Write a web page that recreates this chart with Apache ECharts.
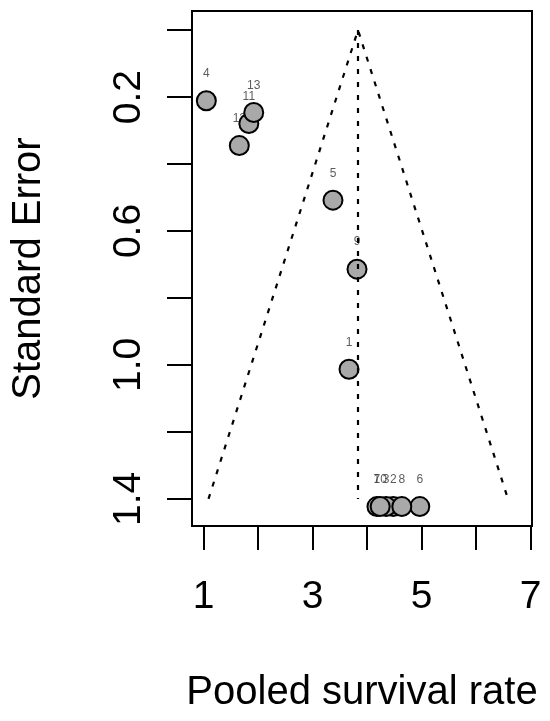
<!DOCTYPE html>
<html>
<head>
<meta charset="utf-8">
<script src="https://cdn.jsdelivr.net/npm/echarts@6/dist/echarts.min.js"></script>
<style>
  html, body { margin: 0; padding: 0; background: #fff; }
  #chart { width: 550px; height: 721px; }
</style>
</head>
<body>
<div id="chart"></div>
<script>
// studies in plotting order 1..13
const studyIds = ['1', '2', '3', '4', '5', '6', '7', '8', '9', '10', '11', '12', '13']
const survival = [3.668, 4.48, 4.35, 1.05, 3.374, 4.967, 4.181, 4.637, 3.815, 4.24, 1.83, 1.655, 1.92]
const stdError = [1.013, 1.423, 1.423, 0.211, 0.508, 1.423, 1.423, 1.423, 0.714, 1.423, 0.279, 0.345, 0.246]

// funnel outline and centre line
const funnelX = [1.09, 3.833, 6.585]
const funnelY = [1.4, 0, 1.4]
const centreX = [3.833, 3.833]
const centreY = [0, 1.4]

// axis ticks and labels
const xTicks = [1, 2, 3, 4, 5, 6, 7]
const xLabels = [1, 3, 5, 7]
const yTicks = [0, 0.2, 0.4, 0.6, 0.8, 1.0, 1.2, 1.4]
const yLabels = [0.2, 0.6, 1.0, 1.4]

const font = "'Liberation Sans', Arial, sans-serif"
const points = survival.map((x, i) => [x, stdError[i], studyIds[i]])

const chart = echarts.init(document.getElementById('chart'))
chart.setOption({
  animation: false,
  textStyle: { fontFamily: font },
  grid: {
    show: true,
    left: 192,
    right: 18,
    top: 11,
    bottom: 195,
    borderColor: '#000',
    borderWidth: 2,
    containLabel: false
  },
  xAxis: {
    type: 'value',
    min: 0.787,
    max: 7.026,
    name: 'Pooled survival rate',
    nameLocation: 'middle',
    nameGap: 147,
    nameTextStyle: { fontSize: 40, lineHeight: 40, color: '#000', fontFamily: font },
    axisLine: { show: true, onZero: false, lineStyle: { color: '#000', width: 2 } },
    axisTick: {
      show: true,
      customValues: xTicks,
      length: 24,
      lineStyle: { color: '#000', width: 2 }
    },
    axisLabel: {
      customValues: xLabels,
      fontSize: 39,
      lineHeight: 39,
      margin: 52,
      color: '#000',
      fontFamily: font
    },
    splitLine: { show: false }
  },
  yAxis: {
    type: 'value',
    inverse: true,
    min: -0.057,
    max: 1.481,
    name: 'Standard Error',
    nameLocation: 'middle',
    nameGap: 143,
    nameRotate: 90,
    nameTextStyle: { fontSize: 40, lineHeight: 40, color: '#000', fontFamily: font },
    axisLine: { show: true, onZero: false, lineStyle: { color: '#000', width: 2 } },
    axisTick: {
      show: true,
      customValues: yTicks,
      length: 25,
      lineStyle: { color: '#000', width: 2 }
    },
    axisLabel: {
      customValues: yLabels,
      rotate: 90,
      fontSize: 39,
      lineHeight: 39,
      margin: 43,
      color: '#000',
      fontFamily: font,
      formatter: v => v.toFixed(1)
    },
    splitLine: { show: false }
  },
  series: [
    {
      // study labels, kept underneath the circles
      type: 'scatter',
      z: 1,
      silent: true,
      symbolSize: 1,
      itemStyle: { color: 'rgba(0,0,0,0)' },
      data: points,
      label: {
        show: true,
        position: 'inside',
        offset: [0, -27],
        formatter: p => p.value[2],
        fontSize: 12,
        color: '#333',
        fontFamily: font
      }
    },
    {
      type: 'scatter',
      z: 2,
      silent: true,
      symbol: 'circle',
      symbolSize: 19,
      itemStyle: { color: '#a9a9a9', borderColor: '#000', borderWidth: 2, opacity: 1 },
      data: points
    },
    {
      type: 'line',
      z: 3,
      silent: true,
      symbol: 'none',
      lineStyle: { color: '#000', width: 2.2, type: [5, 8] },
      data: funnelX.map((x, i) => [x, funnelY[i]])
    },
    {
      type: 'line',
      z: 3,
      silent: true,
      symbol: 'none',
      lineStyle: { color: '#000', width: 2.2, type: [5, 8] },
      data: centreX.map((x, i) => [x, centreY[i]])
    }
  ]
})
</script>
</body>
</html>
